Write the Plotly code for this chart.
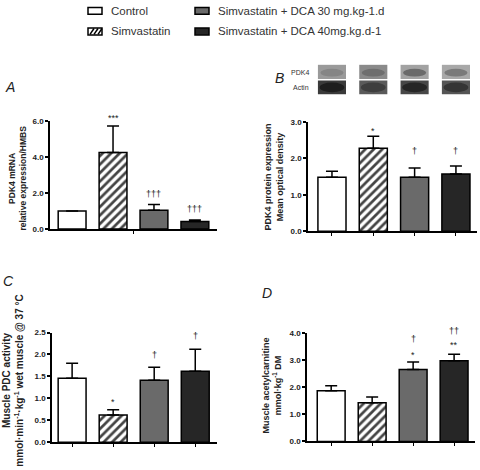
import plotly.graph_objects as go

groups = ["Control", "Simvastatin", "Simvastatin + DCA 30 mg.kg-1.d", "Simvastatin + DCA 40mg.kg.d-1"]
bar_colors = ["#ffffff", "#ffffff", "#6a6a6a", "#262626"]
bar_patterns = ["", "/", "", ""]

# Panel A: PDK4 mRNA
a_mean = [1.0, 4.25, 1.05, 0.42]
a_err_top = [1.0, 5.72, 1.36, 0.50]
a_marks = ["", "***", "†††", "†††"]
a_mark_y = [None, 6.15, 1.95, 1.12]

# Panel B: PDK4 protein
b_mean = [1.48, 2.27, 1.48, 1.57]
b_err_top = [1.64, 2.60, 1.73, 1.79]
b_marks = ["", "*", "†", "†"]
b_mark_y = [None, 2.74, 2.2, 2.2]

# Panel C: PDC activity
c_mean = [1.46, 0.62, 1.41, 1.62]
c_err_top = [1.80, 0.74, 1.71, 2.12]
c_marks = ["", "*", "†", "†"]
c_mark_y = [None, 0.91, 1.98, 2.43]

# Panel D: acetylcarnitine
d_mean = [1.87, 1.43, 2.65, 2.97]
d_err_top = [2.05, 1.64, 2.93, 3.21]
d_marks_top = ["", "", "†", "††"]
d_marks_top_y = [None, None, 3.77, 4.07]
d_marks_low = ["", "", "*", "**"]
d_marks_low_y = [None, None, 3.20, 3.54]

W, H = 480, 470
def px(x): return x / W
def py(y): return 1 - y / H

FONT = "Liberation Sans, Arial, sans-serif"
fig = go.Figure()

panels = [
    dict(key="", mean=a_mean, err=a_err_top, marks=[(a_marks, a_mark_y)], xpx=(50, 217), ypx=(119.3, 229.5),
         yr=[0, 6], xr=[-0.54, 3.54], dtick=2.0, xticks=[1.5]),
    dict(key="2", mean=b_mean, err=b_err_top, marks=[(b_marks, b_mark_y)], xpx=(308, 477), ypx=(120, 231.7),
         yr=[0, 3], xr=[-0.58, 3.51], dtick=1.0, xticks=[0, 1, 2, 3]),
    dict(key="3", mean=c_mean, err=c_err_top, marks=[(c_marks, c_mark_y)], xpx=(52, 217), ypx=(335, 446.7),
         yr=[0, 2.5], xr=[-0.49, 3.53], dtick=0.5, xticks=[0, 1, 2, 3]),
    dict(key="4", mean=d_mean, err=d_err_top, marks=[(d_marks_top, d_marks_top_y), (d_marks_low, d_marks_low_y)],
         xpx=(307, 475), ypx=(335.3, 446), yr=[0, 4], xr=[-0.59, 3.51], dtick=1.0, xticks=[0, 1, 2, 3]),
]

layout = {}
ann = []
for p in panels:
    k = p["key"]
    fig.add_trace(go.Bar(
        x=[0, 1, 2, 3], y=p["mean"], width=0.68,
        xaxis="x" + k, yaxis="y" + k,
        marker=dict(color=bar_colors, line=dict(color="black", width=1.5),
                    pattern=dict(shape=bar_patterns, fgcolor="black", fgopacity=1, size=6, solidity=0.45)),
        error_y=dict(type="data", symmetric=False,
                     array=[t - m for t, m in zip(p["err"], p["mean"])],
                     arrayminus=[0, 0, 0, 0], color="black", thickness=1.5, width=6),
        showlegend=False, hoverinfo="skip",
    ))
    layout["xaxis" + k] = dict(domain=[px(p["xpx"][0]), px(p["xpx"][1])], range=p["xr"],
                               anchor="y" + k, showline=True, linecolor="black", linewidth=1.5,
                               showgrid=False, zeroline=False, ticks="outside", ticklen=3,
                               tickcolor="black", tickwidth=1, tickvals=p["xticks"], showticklabels=False)
    layout["yaxis" + k] = dict(domain=[py(p["ypx"][1]), py(p["ypx"][0])], range=p["yr"],
                               anchor="x" + k, showline=True, linecolor="black", linewidth=1.5,
                               showgrid=False, zeroline=False, ticks="outside", ticklen=3,
                               tickcolor="black", tickwidth=1.5, dtick=p["dtick"], tickformat=".1f",
                               tickfont=dict(family=FONT, size=8, color="#222", weight="bold"))
    pxu = (p["ypx"][1] - p["ypx"][0]) / (p["yr"][1] - p["yr"][0])
    for texts, ys in p["marks"]:
        for i, (t, yv) in enumerate(zip(texts, ys)):
            if t:
                base = min(yv, p["yr"][1] * 0.9)
                ann.append(dict(x=i, y=base, xref="x" + k, yref="y" + k, text=t, showarrow=False,
                                yshift=(yv - base) * pxu,
                                font=dict(family=FONT, size=9, color="#222"), yanchor="middle"))

fig.update_layout(width=W, height=H, margin=dict(l=0, r=0, t=0, b=0),
                  paper_bgcolor="white", plot_bgcolor="white", showlegend=False, **layout)

def ytitle(text, x, y, size=9):
    ann.append(dict(x=px(x), y=py(y), xref="paper", yref="paper", text=text, textangle=-90,
                    showarrow=False, font=dict(family=FONT, size=size, color="#222", weight="bold"),
                    xanchor="center", yanchor="middle", align="center"))

ytitle("PDK4 mRNA<br>relative expression/HMBS", 18, 178, 8.5)
ytitle("PDK4 protein expression<br>Mean optical density", 274, 177, 9)
ytitle("Muscle PDC activity<br>mmol·min<sup>-1</sup>·kg<sup>-1</sup> wet muscle @ 37 °C", 13, 384, 10)
ytitle("Muscle acetylcarnitine<br>mmol·kg<sup>-1</sup> DM", 272, 389, 9)

for letter, x, y in [("A", 10, 85), ("B", 279, 75), ("C", 8, 282), ("D", 267, 295)]:
    ann.append(dict(x=px(x), y=py(y), xref="paper", yref="paper", text=letter, showarrow=False,
                    font=dict(family=FONT, size=14, color="#222", style="italic"),
                    xanchor="center", yanchor="middle"))

# Legend (manual)
shapes = []
leg = [(groups[0], 88, 7, 0), (groups[1], 88, 28, 1), (groups[2], 195, 7, 2), (groups[3], 195, 28, 3)]
for name, x0, yc, i in leg:
    shapes.append(dict(type="rect", xref="paper", yref="paper", x0=px(x0), x1=px(x0 + 14),
                       y0=py(yc + 3.5), y1=py(yc - 3.5), line=dict(color="black", width=1.5),
                       fillcolor=bar_colors[i]))
    if bar_patterns[i]:
        for j in range(3):
            xs = x0 + 2 + j * 4
            shapes.append(dict(type="line", xref="paper", yref="paper", x0=px(xs), x1=px(xs + 4),
                               y0=py(yc + 3), y1=py(yc - 3), line=dict(color="black", width=1.5)))
    ann.append(dict(x=px(x0 + 21), y=py(yc), xref="paper", yref="paper", text=name, showarrow=False,
                    font=dict(family=FONT, size=11.5, color="#333"), xanchor="left", yanchor="middle"))

# Western blot strips above panel B
blot_pdk4 = ["#9a9a9a", "#8a8a8a", "#a2a2a2", "#a8a8a8"]
blot_pdk4_band = ["#858585", "#6e6e6e", "#6a6a6a", "#7a7a7a"]
blot_actin = ["#3a3a3a", "#5a5a5a", "#474747", "#555555"]
blot_actin_band = ["#1e1e1e", "#3e3e3e", "#262626", "#353535"]
for i in range(4):
    shapes.append(dict(type="rect", xref="x2", yref="paper", x0=i - 0.34, x1=i + 0.34,
                       y0=py(76.5), y1=py(62), line=dict(width=0), fillcolor=blot_pdk4[i]))
    shapes.append(dict(type="circle", xref="x2", yref="paper", x0=i - 0.28, x1=i + 0.28,
                       y0=py(74), y1=py(66), line=dict(width=0), fillcolor=blot_pdk4_band[i]))
    shapes.append(dict(type="rect", xref="x2", yref="paper", x0=i - 0.34, x1=i + 0.34,
                       y0=py(92), y1=py(78), line=dict(width=0), fillcolor=blot_actin[i]))
    shapes.append(dict(type="circle", xref="x2", yref="paper", x0=i - 0.3, x1=i + 0.3,
                       y0=py(90), y1=py(80), line=dict(width=0), fillcolor=blot_actin_band[i]))
ann.append(dict(x=px(300), y=py(70), xref="paper", yref="paper", text="PDK4", showarrow=False,
                font=dict(family=FONT, size=7, color="#333"), xanchor="center", yanchor="middle"))
ann.append(dict(x=px(301), y=py(85), xref="paper", yref="paper", text="Actin", showarrow=False,
                font=dict(family=FONT, size=7, color="#333"), xanchor="center", yanchor="middle"))

fig.update_layout(annotations=ann, shapes=shapes)
fig.write_html("out.html", config={"displayModeBar": False},
               post_script="document.body.style.margin='0';")
